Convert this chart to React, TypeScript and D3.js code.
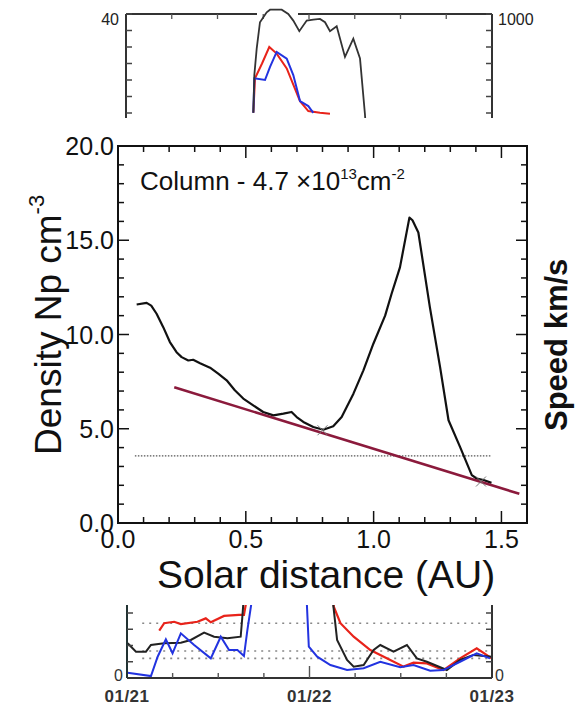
import React from "react";
import * as d3 from "d3";

// ---------- main panel data ----------
const distAU = [0.073,0.112,0.13,0.151,0.177,0.203,0.229,0.249,0.275,0.294,0.321,0.36,0.392,0.425,0.457,0.49,0.529,0.568,0.608,0.647,0.679,0.699,0.725,0.764,0.803,0.842,0.875,0.921,0.96,0.999,1.045,1.07,1.103,1.14,1.152,1.175,1.22,1.26,1.293,1.338,1.384,1.403,1.43,1.461];
const density = [11.59,11.68,11.53,11.1,10.39,9.6,9.06,8.8,8.62,8.66,8.48,8.24,7.92,7.57,7.04,6.6,6.24,5.89,5.71,5.8,5.89,5.62,5.36,5.09,4.95,5.13,5.62,6.86,8.1,9.51,11.0,12.15,13.56,16.2,16.06,15.41,11.45,8.27,5.45,4.04,2.54,2.36,2.28,2.13];
const fitX = [0.22, 1.57];
const fitY = [7.2, 1.55];
const refLevel = 3.56;
const refX = [0.066, 1.462];
const markX = [0.8, 1.42];
const markY = [4.92, 2.2];
const xTicks = [0.0, 0.5, 1.0, 1.5];
const yTicks = [0, 5, 10, 15, 20];

// ---------- top (background) panel data: hours from 01/21 00:00 ----------
const topBlackH = [16.7,16.83,17.14,17.57,18.45,18.89,20.42,21.28,21.94,22.73,23.7,24.56,25.44,26.1,26.75,27.63,28.72,29.81,30.69,31.34,31.6];
const topBlackV = [10.06,21.5,29.5,37.5,40.5,41.3,41.3,40.0,38.0,34.8,38.0,38.3,38.5,37.5,34.8,36.3,27.0,32.5,26.5,9.55,0];
const topRedH = [16.7,16.92,17.84,18.79,19.76,21.08,22.82,23.91,25.44,26.75];
const topRedV = [10.06,20.5,25.0,30.0,28.0,23.5,13.6,10.6,10.06,9.76];
const topBlueH = [16.7,16.83,18.23,18.89,19.76,21.08,21.94,22.82,23.91,24.56];
const topBlueV = [10.06,20.5,20.0,24.0,28.5,26.5,21.5,13.6,12.1,10.06];

// ---------- bottom (background) panel data ----------
const botRed1H = [4.24,4.89,6.2,7.08,9.27,10.36,11.02,12.76,14.73,15.38,15.61,15.74];
const botRed1V = [2.91,3.37,3.46,3.32,3.46,3.67,3.43,3.82,3.88,3.88,4.49,5.1];
const botRed2H = [27.19,27.19,28.07,29.81,32.0,34.62,36.37,37.68,39.44,41.61,43.8,45.99,47.96];
const botRed2V = [5.1,4.39,3.37,2.54,1.72,1.11,0.70,0.94,0.90,0.49,1.21,1.83,1.21];
const botBlack1H = [0.09,1.18,2.49,3.15,4.89,7.08,8.39,10.14,11.45,13.21,14.95,15.17,15.38];
const botBlack1V = [2.14,1.62,1.62,2.03,2.14,2.17,2.34,2.79,2.54,2.44,2.54,3.77,5.1];
const botBlack2H = [26.98,27.63,28.94,29.81,31.12,32.43,33.31,35.05,36.81,38.12,39.44,42.06,43.8,45.55,47.96];
const botBlack2V = [5.1,2.34,1.11,0.70,0.80,1.72,2.03,1.62,2.03,1.21,1.0,0.49,1.11,1.42,1.31];
const botBlue1H = [0.09,3.15,4.03,5.11,5.99,7.08,8.83,11.02,12.33,13.42,14.52,15.38,15.83,16.52];
const botBlue1V = [0.33,0.12,1.31,2.38,1.52,2.75,2.03,1.21,2.54,1.72,1.72,1.35,2.95,5.1];
const botBlue2H = [23.6,23.91,25.01,26.75,28.94,31.12,33.31,35.93,37.68,39.87,41.61,43.8,45.99,47.74];
const botBlue2V = [5.1,1.93,1.31,0.80,0.49,0.60,1.0,0.66,0.80,0.45,0.49,1.0,1.52,1.21];
const botDotLevels = [3.37, 1.66, 1.21];
const dateLabels = ["01/21", "01/22", "01/23"];

const FONT = "'Liberation Sans', Arial, sans-serif";

export default function App() {
  const W = 576, H = 705;
  const x = d3.scaleLinear().domain([0, 1.6]).range([118, 527]);
  const y = d3.scaleLinear().domain([0, 20]).range([523, 146]);

  const xT = d3.scaleLinear().domain([0, 48]).range([126, 492]);
  const yT = d3.scaleLinear().domain([0, 40]).range([146, 14]);
  const xB = d3.scaleLinear().domain([0, 48]).range([127, 492]);
  const yB = d3.scaleLinear().domain([0, 4]).range([678, 613]);

  const mk = (xs: number[], ys: number[], sx: any, sy: any) =>
    d3.line<number>().x((_, i) => sx(xs[i])).y((_, i) => sy(ys[i]))(xs) || "";

  const mainPath = mk(distAU, density, x, y);
  const fitPath = mk(fitX, fitY, x, y);

  const minorX = d3.range(0, 1.61, 0.1);
  const minorY = d3.range(0, 20.01, 1);
  const hTicks = d3.range(0, 49, 6);
  const topYT = d3.range(0, 41, 5);
  const botYT = [1, 2, 3, 4];

  return (
    <svg width={W} height={H} style={{ position: "absolute", left: 0, top: 0, background: "#fff" }}>
      <defs>
        <clipPath id="clipTop"><rect x={0} y={0} width={W} height={118} /></clipPath>
        <clipPath id="clipBot"><rect x={0} y={605} width={W} height={100} /></clipPath>
      </defs>
      <rect x={0} y={0} width={W} height={H} fill="#fff" />

      {/* ---------- top background panel ---------- */}
      <g clipPath="url(#clipTop)">
        <line x1={xT(0)} x2={xT(0)} y1={yT(40)} y2={130} stroke="#333" strokeWidth={2} />
        <line x1={xT(48)} x2={xT(48)} y1={yT(40)} y2={130} stroke="#333" strokeWidth={2} />
        <line x1={xT(0)} x2={257} y1={yT(40)} y2={yT(40)} stroke="#333" strokeWidth={2} />
        <line x1={298} x2={xT(48)} y1={yT(40)} y2={yT(40)} stroke="#333" strokeWidth={2} />
        {hTicks.slice(1, -1).map((h) => (
          <line key={"tt" + h} x1={xT(h)} x2={xT(h)} y1={yT(40)} y2={yT(40) + 5} stroke="#555" strokeWidth={1.3} />
        ))}
        {topYT.map((v) => (
          <g key={"ty" + v}>
            <line x1={xT(0)} x2={xT(0) + 6} y1={yT(v)} y2={yT(v)} stroke="#444" strokeWidth={1.5} />
            <line x1={xT(48)} x2={xT(48) - 6} y1={yT(v)} y2={yT(v)} stroke="#444" strokeWidth={1.5} />
          </g>
        ))}
        <path d={mk(topRedH, topRedV, xT, yT)} fill="none" stroke="#e8231a" strokeWidth={2} />
        <path d={mk(topBlueH, topBlueV, xT, yT)} fill="none" stroke="#2233e0" strokeWidth={2} />
        <path d={mk(topBlackH, topBlackV, xT, yT)} fill="none" stroke="#333" strokeWidth={1.8} />
        <text x={119} y={25} fontFamily={FONT} fontSize={16} textAnchor="end" fill="#222">40</text>
        <text x={498} y={25} fontFamily={FONT} fontSize={16} fill="#222">1000</text>
      </g>

      {/* ---------- bottom background panel ---------- */}
      <g clipPath="url(#clipBot)">
        {botDotLevels.map((v) => (
          <line key={"bd" + v} x1={xB(2)} x2={xB(47.7)} y1={yB(v)} y2={yB(v)} stroke="#888" strokeWidth={1.6} strokeDasharray="2,5" />
        ))}
        <path d={mk(botRed1H, botRed1V, xB, yB)} fill="none" stroke="#e8231a" strokeWidth={2.2} />
        <path d={mk(botRed2H, botRed2V, xB, yB)} fill="none" stroke="#e8231a" strokeWidth={2.2} />
        <path d={mk(botBlack1H, botBlack1V, xB, yB)} fill="none" stroke="#222" strokeWidth={2} />
        <path d={mk(botBlack2H, botBlack2V, xB, yB)} fill="none" stroke="#222" strokeWidth={2} />
        <path d={mk(botBlue1H, botBlue1V, xB, yB)} fill="none" stroke="#2233e0" strokeWidth={2} />
        <path d={mk(botBlue2H, botBlue2V, xB, yB)} fill="none" stroke="#2233e0" strokeWidth={2} />
        <line x1={xB(0)} x2={xB(0)} y1={590} y2={yB(0)} stroke="#233" strokeWidth={2} />
        <line x1={xB(48)} x2={xB(48)} y1={590} y2={yB(0)} stroke="#333" strokeWidth={2} />
        <line x1={xB(0)} x2={xB(48)} y1={yB(0)} y2={yB(0)} stroke="#333" strokeWidth={2} />
        {hTicks.slice(1, -1).map((h) => (
          <line key={"bt" + h} x1={xB(h)} x2={xB(h)} y1={yB(0)} y2={yB(0) - (h === 24 ? 12 : 5)} stroke="#555" strokeWidth={1.4} />
        ))}
        {botYT.map((v) => (
          <g key={"by" + v}>
            <line x1={xB(0)} x2={xB(0) + 6} y1={yB(v)} y2={yB(v)} stroke="#444" strokeWidth={1.5} />
            <line x1={xB(48)} x2={xB(48) - 6} y1={yB(v)} y2={yB(v)} stroke="#444" strokeWidth={1.5} />
          </g>
        ))}
        <text x={123} y={681} fontFamily={FONT} fontSize={16} textAnchor="end" fill="#333">0</text>
        <text x={495} y={681} fontFamily={FONT} fontSize={16} fill="#333">0</text>
        {dateLabels.map((d, i) => (
          <text key={d} x={xB(i * 24)} y={702} fontFamily={FONT} fontSize={17} fontWeight="bold" letterSpacing={0.5} textAnchor="middle" fill="#333">{d}</text>
        ))}
      </g>

      {/* ---------- main panel ---------- */}
      <g>
        {minorX.map((v, i) => {
          const major = i % 5 === 0;
          return (
            <g key={"mx" + i}>
              <line x1={x(v)} x2={x(v)} y1={y(0)} y2={y(0) - (major ? 12 : 6)} stroke="#111" strokeWidth={1.5} />
              <line x1={x(v)} x2={x(v)} y1={y(20)} y2={y(20) + (major ? 12 : 6)} stroke="#111" strokeWidth={1.5} />
            </g>
          );
        })}
        {minorY.map((v, i) => {
          const major = i % 5 === 0;
          return (
            <g key={"my" + i}>
              <line x1={x(0)} x2={x(0) + (major ? 11 : 6)} y1={y(v)} y2={y(v)} stroke="#111" strokeWidth={1.5} />
              <line x1={x(1.6)} x2={x(1.6) - (major ? 11 : 6)} y1={y(v)} y2={y(v)} stroke="#111" strokeWidth={1.5} />
            </g>
          );
        })}
        <rect x={x(0)} y={y(20)} width={x(1.6) - x(0)} height={y(0) - y(20)} fill="none" stroke="#111" strokeWidth={2} />

        <line x1={x(refX[0])} x2={x(refX[1])} y1={y(refLevel)} y2={y(refLevel)} stroke="#555" strokeWidth={1.2} strokeDasharray="1.5,1.5" />

        <path d={mainPath} fill="none" stroke="#111" strokeWidth={2.2} strokeLinejoin="round" />
        <path d={fitPath} fill="none" stroke="#8b1a3c" strokeWidth={2.6} />
        {markX.map((mx, i) => (
          <g key={"mk" + i} stroke="#777" strokeWidth={1}>
            <line x1={x(mx) - 5} x2={x(mx) + 5} y1={y(markY[i]) - 5} y2={y(markY[i]) + 5} />
            <line x1={x(mx) - 5} x2={x(mx) + 5} y1={y(markY[i]) + 5} y2={y(markY[i]) - 5} />
          </g>
        ))}

        {yTicks.map((v) => (
          <text key={"yl" + v} x={114} y={y(v) + 9} fontFamily={FONT} fontSize={25} textAnchor="end" fill="#111">{v.toFixed(1)}</text>
        ))}
        {xTicks.map((v) => (
          <text key={"xl" + v} x={x(v)} y={548} fontFamily={FONT} fontSize={25} textAnchor="middle" fill="#111">{v.toFixed(1)}</text>
        ))}

        <text x={140} y={190} fontFamily={FONT} fontSize={26} fill="#111">
          Column - 4.7 ×10
          <tspan fontSize={15} dy={-11}>13</tspan>
          <tspan fontSize={26} dy={11}>cm</tspan>
          <tspan fontSize={15} dy={-11}>-2</tspan>
        </text>

        <text x={157} y={588} fontFamily={FONT} fontSize={39} fill="#111">Solar distance (AU)</text>
        <text transform="translate(61,455) rotate(-90)" fontFamily={FONT} fontSize={37} fill="#111">
          Density Np cm
          <tspan fontSize={22} dy={-17}>-3</tspan>
        </text>
        <text transform="translate(567,431) rotate(-90)" fontFamily={FONT} fontSize={31} fontWeight="bold" fill="#111">Speed km/s</text>
      </g>
    </svg>
  );
}
